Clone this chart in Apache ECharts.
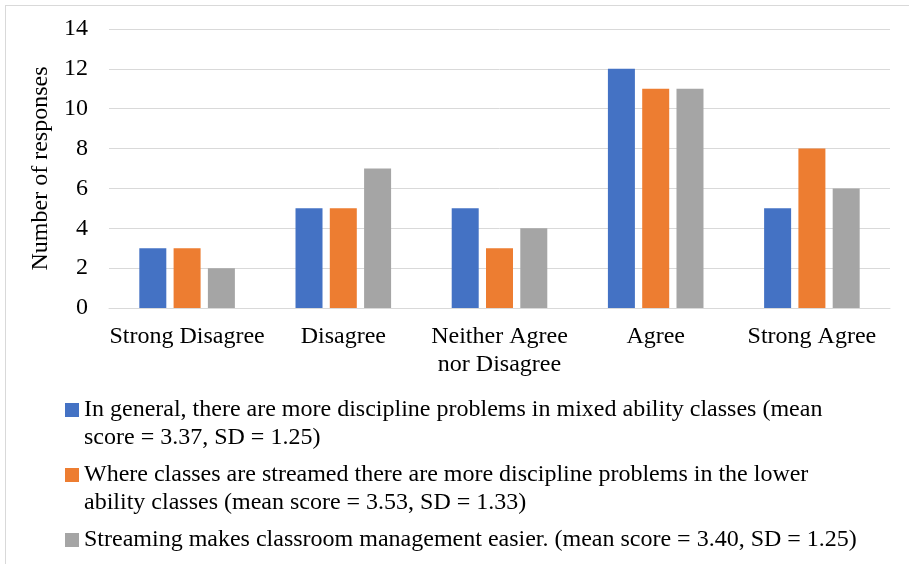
<!DOCTYPE html>
<html>
<head>
<meta charset="utf-8">
<script src="https://cdn.jsdelivr.net/npm/echarts@6/dist/echarts.min.js"></script>
<style>
  html, body { margin: 0; padding: 0; background: #fff; }
  #frame { position: absolute; left: 5px; top: 5px; width: 920px; height: 580px; border: 1px solid #d9d9d9; }
  #chart { position: absolute; left: 0; top: 0; width: 909px; height: 564px; }
</style>
</head>
<body>
<div id="frame"></div>
<div id="chart"></div>
<script>
// Response categories on the x axis
const categories = ['Strong Disagree', 'Disagree', 'Neither Agree\nnor Disagree', 'Agree', 'Strong Agree'];

// Statements (legend text, wrapped as in the key)
const seriesNames = [
  'In general, there are more discipline problems in mixed ability classes (mean\nscore = 3.37, SD = 1.25)',
  'Where classes are streamed there are more discipline problems in the lower\nability classes (mean score = 3.53, SD = 1.33)',
  'Streaming makes classroom management easier. (mean score = 3.40, SD = 1.25)'
];

// Number of responses per category for each statement
const mixedAbility = [3, 5, 5, 12, 5];
const lowerStreamed = [3, 5, 3, 11, 8];
const streamingEasier = [2, 7, 4, 11, 6];

// Y axis ticks
const yMin = 0, yMax = 14, yStep = 2;

const colors = ['#4472C4', '#ED7D31', '#A5A5A5'];
const seriesValues = [mixedAbility, lowerStreamed, streamingEasier];
const FONT = "'Liberation Serif', 'Times New Roman', serif";
const FS = 24;
const LH = 28;

// one legend block per statement so each can sit on its own rows;
// wrapped entries get a leading blank line so the swatch lines up with the first text row
const legendTops = [368, 433, 526];
const legends = seriesNames.map((name, i) => {
  const multi = name.indexOf('\n') >= 0;
  return {
    orient: 'vertical',
    left: 65,
    top: legendTops[i],
    padding: 0,
    itemWidth: 14,
    itemHeight: 14,
    itemGap: 0,
    icon: 'rect',
    selectedMode: false,
    data: [name],
    formatter: multi ? (n => '\n' + n) : (n => n),
    textStyle: {
      fontFamily: FONT,
      fontSize: FS,
      lineHeight: LH,
      color: '#000'
    }
  };
});

const chart = echarts.init(document.getElementById('chart'), null, { renderer: 'canvas' });
chart.setOption({
  animation: false,
  color: colors,
  legend: legends,
  grid: { left: 109, right: 19, top: 29, bottom: 256, containLabel: false },
  xAxis: {
    type: 'category',
    data: categories,
    axisLine: { lineStyle: { color: '#d9d9d9', width: 1 } },
    axisTick: { show: false },
    axisLabel: {
      fontFamily: FONT, fontSize: FS, lineHeight: LH, color: '#000', margin: 15, interval: 0
    }
  },
  yAxis: {
    type: 'value',
    min: yMin,
    max: yMax,
    interval: yStep,
    name: 'Number of responses',
    nameLocation: 'middle',
    nameGap: 54,
    nameTextStyle: { fontFamily: FONT, fontSize: FS, color: '#000' },
    axisLine: { show: false },
    axisTick: { show: false },
    splitLine: { lineStyle: { color: '#d9d9d9', width: 1 } },
    axisLabel: { fontFamily: FONT, fontSize: FS, color: '#000', margin: 21 }
  },
  series: seriesNames.map((name, i) => ({
    name: name,
    type: 'bar',
    data: seriesValues[i],
    barWidth: 27,
    barGap: '27%',
    itemStyle: { color: colors[i] }
  }))
});
</script>
</body>
</html>
